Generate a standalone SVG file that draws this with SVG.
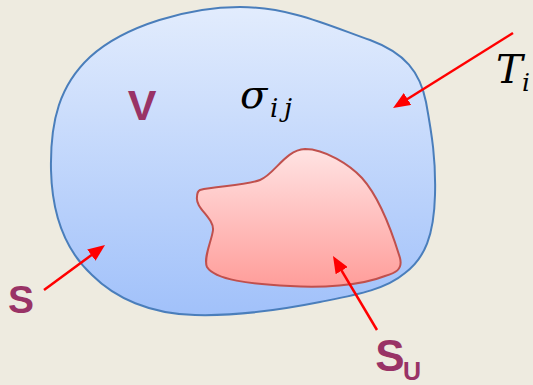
<svg xmlns="http://www.w3.org/2000/svg" width="533" height="385" viewBox="0 0 533 385">
<defs>
<linearGradient id="gBlue" x1="0" y1="0" x2="0" y2="1">
<stop offset="0" stop-color="#e2ecfd"/>
<stop offset="1" stop-color="#a1c1fa"/>
</linearGradient>
<linearGradient id="gRed" x1="0" y1="0" x2="0" y2="1">
<stop offset="0" stop-color="#ffe3e3"/>
<stop offset="1" stop-color="#ff9d9a"/>
</linearGradient>
<marker id="ah" markerUnits="userSpaceOnUse" markerWidth="17" markerHeight="14" viewBox="0 0 17 14" refX="8" refY="7" orient="auto">
<path d="M0,0 L17,7 L0,14 Z" fill="#ff0000"/>
</marker>
</defs>
<style>
.lbl{font-family:"Liberation Sans",Arial,sans-serif;font-weight:bold;fill:#993366}
.math{font-family:"DejaVu Serif","Liberation Serif",serif;font-style:italic;fill:#000}
.arr{stroke:#ff0000;stroke-width:2.5;fill:none;marker-end:url(#ah)}
</style>
<rect width="533" height="385" fill="#eeebe0"/>
<g id="body">
<path d="M240,7 C290,7 330,26 370,40 C405,53 420,72 426,102 C432,135 436,160 435,195 C434,235 425,258 405,273 C385,290 355,295 320,302 C270,312 230,316 195,315 C150,314 115,298 92,275 C65,250 52,215 51,170 C50,120 60,85 90,57 C125,25 190,7 240,7 Z" fill="url(#gBlue)" stroke="#4a7ebb" stroke-width="2"/>
<text class="lbl" x="142" y="120" font-size="43" text-anchor="middle">V</text>
<text class="math" x="240" y="108" font-size="40">σ</text>
<text class="math" x="270" y="117" font-size="26">i</text>
<text class="math" x="284" y="117" font-size="26">j</text>
</g>
<g id="su-region">
<path d="M200,190 C215,186 245,186 260,180 C275,174 285,150 305,149 C325,149 350,165 362,178 C380,198 393,235 400,258 C403,270 395,273 385,276 C360,286 320,288 290,286 C250,284 215,280 207,267 C203,258 212,240 213,230 C214,218 195,208 197,197 C197,193 198,191 200,190 Z" fill="url(#gRed)" stroke="#c0504d" stroke-width="2"/>
</g>
<g id="label-S">
<text class="lbl" x="21" y="313" font-size="39" text-anchor="middle">S</text>
</g>
<g id="label-SU">
<text class="lbl" x="390" y="371" font-size="44" text-anchor="middle">S</text>
<text class="lbl" x="412" y="380" font-size="25" text-anchor="middle">U</text>
</g>
<g id="label-Ti">
<text class="math" x="496" y="83" font-size="40">T</text>
<text class="math" x="522" y="91" font-size="25">i</text>
</g>
<g id="connectors">
<line class="arr" x1="513" y1="33" x2="400.7" y2="103.2"/>
<line class="arr" x1="44" y1="290" x2="97.8" y2="250.4"/>
<line class="arr" x1="377" y1="330" x2="337.6" y2="263.8"/>
</g>
</svg>
